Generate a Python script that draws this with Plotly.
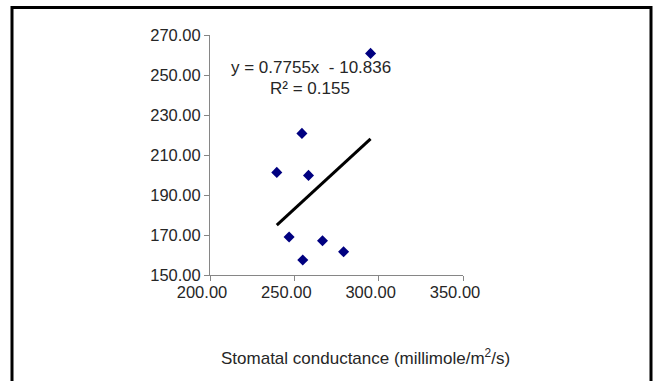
import plotly.graph_objects as go

# Stomatal conductance (x) against the measured response (y)
conductance = [239.6, 258.4, 246.9, 266.7, 255.0, 279.2, 295.2, 254.5]
response = [201.3, 199.8, 169.0, 167.1, 157.5, 161.6, 260.8, 220.8]

# Linear trendline as stated in the equation label
slope = 0.7755
intercept = -10.836
r_squared = 0.155

x_ticks = [200, 250, 300, 350]
y_ticks = [150, 170, 190, 210, 230, 250, 270]

FONT = "Liberation Sans, Arial, sans-serif"
TEXT = "#262626"
AXIS = "#868686"

x_line = [min(conductance), max(conductance)]
y_line = [slope * v + intercept for v in x_line]

fig = go.Figure()
fig.add_trace(go.Scatter(
    x=conductance, y=response, mode="markers",
    marker=dict(symbol="diamond", size=8.5, color="#000080"),
    showlegend=False, hoverinfo="x+y",
))
fig.add_trace(go.Scatter(
    x=x_line, y=y_line, mode="lines",
    line=dict(color="black", width=3),
    showlegend=False, hoverinfo="skip",
))

axis_common = dict(
    showgrid=False, zeroline=False, showline=True, linecolor=AXIS, linewidth=1,
    ticks="outside", ticklen=5, tickcolor=AXIS, tickwidth=1,
    tickformat=".2f", tickfont=dict(family=FONT, size=16.5, color=TEXT),
)

fig.update_layout(
    width=654, height=381,
    margin=dict(l=210, r=191, t=35, b=106),
    paper_bgcolor="white", plot_bgcolor="white",
    xaxis=dict(range=[200, 350], tickvals=x_ticks, ticklabelshift=-8,
               ticklabelstandoff=-3, **axis_common),
    yaxis=dict(range=[150, 270], tickvals=y_ticks, **axis_common),
    shapes=[dict(
        type="rect", xref="paper", yref="paper",
        x0=(12 - 210) / 253, x1=(651 - 210) / 253,
        y0=(275 - 400) / 240, y1=(275 - 7.5) / 240,
        line=dict(color="black", width=3), fillcolor="rgba(0,0,0,0)",
        layer="below",
    )],
    annotations=[
        dict(text=f"y = {slope}x  - {abs(intercept)}", xref="paper", yref="paper",
             x=(311 - 210) / 253, y=(275 - 68) / 240, showarrow=False,
             xanchor="center", yanchor="middle",
             font=dict(family=FONT, size=17, color=TEXT)),
        dict(text=f"R² = {r_squared}", xref="paper", yref="paper",
             x=(310 - 210) / 253, y=(275 - 88) / 240, showarrow=False,
             xanchor="center", yanchor="middle",
             font=dict(family=FONT, size=17, color=TEXT)),
        dict(text="Stomatal conductance (millimole/m<sup>2</sup>/s)",
             xref="paper", yref="paper",
             x=(365 - 210) / 253, y=(275 - 357) / 240, showarrow=False,
             xanchor="center", yanchor="middle",
             font=dict(family=FONT, size=17, color=TEXT)),
    ],
)

fig.write_html("out.html")
